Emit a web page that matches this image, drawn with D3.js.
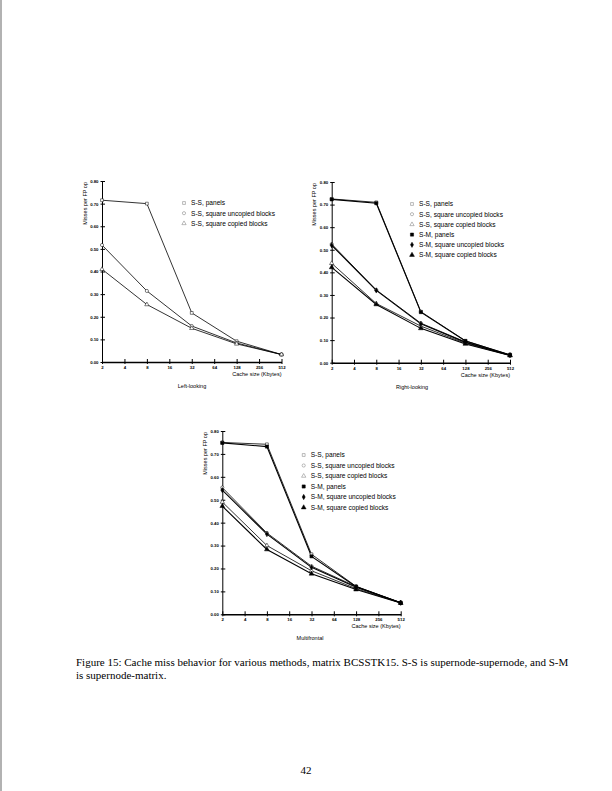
<!DOCTYPE html>
<html>
<head>
<meta charset="utf-8">
<title>Figure 15</title>
<style>
  body { margin: 0; background: #fff; }
  svg { display: block; }
  .tick text { font-family: "Liberation Sans", Arial, sans-serif; font-weight: bold; }
</style>
<script src="https://cdn.jsdelivr.net/npm/d3@7"></script>
</head>
<body>
<svg id="page" width="612" height="791"></svg>
<script>
// data
var cacheSizes = [2, 8, 32, 128, 512];
var xTicks = [2, 4, 8, 16, 32, 64, 128, 256, 512];
var yTicks = [0, 0.1, 0.2, 0.3, 0.4, 0.5, 0.6, 0.7, 0.8];

var seriesNames = ["S-S, panels", "S-S, square uncopied blocks", "S-S, square copied blocks",
                   "S-M, panels", "S-M, square uncopied blocks", "S-M, square copied blocks"];

var leftSSPanels   = [0.715, 0.700, 0.217, 0.092, 0.033];
var leftSSUncopied = [0.517, 0.314, 0.159, 0.084, 0.033];
var leftSSCopied   = [0.410, 0.254, 0.149, 0.080, 0.033];

var rightSSPanels   = [0.725, 0.710, 0.226, 0.097, 0.034];
var rightSSUncopied = [0.525, 0.322, 0.175, 0.092, 0.033];
var rightSSCopied   = [0.440, 0.262, 0.162, 0.086, 0.032];
var rightSMPanels   = [0.723, 0.706, 0.224, 0.096, 0.035];
var rightSMUncopied = [0.520, 0.320, 0.172, 0.090, 0.033];
var rightSMCopied   = [0.422, 0.258, 0.152, 0.083, 0.032];

var multiSSPanels   = [0.750, 0.742, 0.262, 0.122, 0.051];
var multiSSUncopied = [0.553, 0.355, 0.210, 0.121, 0.050];
var multiSSCopied   = [0.490, 0.300, 0.190, 0.112, 0.050];
var multiSMPanels   = [0.748, 0.732, 0.253, 0.120, 0.050];
var multiSMUncopied = [0.542, 0.350, 0.205, 0.118, 0.050];
var multiSMCopied   = [0.472, 0.283, 0.177, 0.108, 0.049];

// marker per series index
var markers = [
  {type: d3.symbolSquare, fill: "none", size: 8},
  {type: d3.symbolCircle, fill: "none", size: 8},
  {type: d3.symbolTriangle, fill: "none", size: 8},
  {type: d3.symbolSquare, fill: "#000", size: 10},
  {type: d3.symbolDiamond, fill: "#000", size: 8},
  {type: d3.symbolTriangle, fill: "#000", size: 10}
];

var svg = d3.select("#page");

// scan edge on the left
svg.append("line").attr("x1", 1).attr("x2", 1).attr("y1", 0).attr("y2", 791)
  .attr("stroke", "#999").attr("stroke-width", 1.5);

function drawPanel(p) {
  var x = d3.scaleLog().base(2).domain([2, 512]).range([p.x0, p.x1]);
  var y = d3.scaleLinear().domain([0, 0.8]).range([p.y0, p.y1]);
  var g = svg.append("g");

  var yAxis = g.append("g").attr("transform", "translate(" + p.x0 + ",0)")
    .call(d3.axisLeft(y).tickValues(yTicks).tickFormat(d3.format(".2f")).tickSize(0).tickPadding(3.5));
  yAxis.selectAll("text").attr("font-size", 4.3);
  yAxis.select(".domain").attr("stroke-width", 1);
  yAxis.selectAll(".tick").append("line").attr("x1", -1.5).attr("x2", 3).attr("stroke", "#000");

  var xAxis = g.append("g").attr("transform", "translate(0," + p.y0 + ")")
    .call(d3.axisBottom(x).tickValues(xTicks).tickFormat(d3.format("d")).tickSize(0).tickPadding(4));
  xAxis.selectAll("text").attr("font-size", 4.3);
  xAxis.select(".domain").attr("stroke-width", 1.6);
  xAxis.selectAll(".tick").append("line").attr("y1", 2).attr("y2", -3).attr("stroke", "#000");

  g.append("text")
    .attr("transform", "translate(" + (p.x0 - 15.5) + "," + (p.y1 + 1) + ") rotate(-90)")
    .attr("text-anchor", "end")
    .attr("font-family", "Liberation Sans, Arial, sans-serif").attr("font-size", 5.5)
    .text("Misses per FP op");

  g.append("text").attr("x", p.x1).attr("y", p.y0 + 14)
    .attr("text-anchor", "end")
    .attr("font-family", "Liberation Sans, Arial, sans-serif").attr("font-size", 5.5)
    .text("Cache size (Kbytes)");

  g.append("text").attr("x", p.titleX).attr("y", p.y0 + 26)
    .attr("text-anchor", "middle")
    .attr("font-family", "Liberation Sans, Arial, sans-serif").attr("font-size", 5.5)
    .text(p.title);

  var line = d3.line().x(function (d, i) { return x(cacheSizes[i]); }).y(function (d) { return y(d); });

  p.series.forEach(function (s) {
    g.append("path").attr("d", line(s.values))
      .attr("fill", "none").attr("stroke", "#000").attr("stroke-width", s.idx >= 3 ? 1.1 : 0.8);
  });
  p.series.forEach(function (s) {
    var m = markers[s.idx];
    g.selectAll(null).data(s.values).enter().append("path")
      .attr("d", d3.symbol().type(m.type).size(m.size))
      .attr("transform", function (d, i) { return "translate(" + x(cacheSizes[i]) + "," + y(d) + ")"; })
      .attr("fill", m.fill === "none" ? "#fff" : m.fill)
      .attr("stroke", "#000").attr("stroke-width", 0.5);
  });

  // legend
  p.series.forEach(function (s, k) {
    var m = markers[s.idx];
    var ly = p.legY + k * p.legStep;
    g.append("path").attr("d", d3.symbol().type(m.type).size(m.size))
      .attr("transform", "translate(" + p.legX + "," + ly + ")")
      .attr("fill", m.fill === "none" ? "#fff" : m.fill)
      .attr("stroke", m.fill === "none" ? "#777" : "#000").attr("stroke-width", 0.5);
    g.append("text").attr("x", p.legX + 7).attr("y", ly + 2.3)
      .attr("font-family", "Liberation Sans, Arial, sans-serif").attr("font-size", 6.6)
      .text(seriesNames[s.idx]);
  });
}

drawPanel({
  x0: 102, x1: 281.5, y0: 362, y1: 181, title: "Left-looking", titleX: 192,
  legX: 184, legY: 203, legStep: 10.2,
  series: [{idx: 0, values: leftSSPanels}, {idx: 1, values: leftSSUncopied}, {idx: 2, values: leftSSCopied}]
});

drawPanel({
  x0: 331.7, x1: 510, y0: 362.7, y1: 182, title: "Right-looking", titleX: 412,
  legX: 412, legY: 204, legStep: 10.2,
  series: [{idx: 0, values: rightSSPanels}, {idx: 1, values: rightSSUncopied}, {idx: 2, values: rightSSCopied},
           {idx: 3, values: rightSMPanels}, {idx: 4, values: rightSMUncopied}, {idx: 5, values: rightSMCopied}]
});

drawPanel({
  x0: 222.3, x1: 400.7, y0: 614.3, y1: 431, title: "Multifrontal", titleX: 310,
  legX: 303.7, legY: 455, legStep: 10.5,
  series: [{idx: 0, values: multiSSPanels}, {idx: 1, values: multiSSUncopied}, {idx: 2, values: multiSSCopied},
           {idx: 3, values: multiSMPanels}, {idx: 4, values: multiSMUncopied}, {idx: 5, values: multiSMCopied}]
});

// caption
var cap = svg.append("text").attr("font-family", "Liberation Serif, Times New Roman, serif").attr("font-size", 11);
cap.append("tspan").attr("x", 76).attr("y", 666)
  .text("Figure 15: Cache miss behavior for various methods, matrix BCSSTK15. S-S is supernode-supernode, and S-M");
cap.append("tspan").attr("x", 76).attr("y", 679).text("is supernode-matrix.");

svg.append("text").attr("x", 306).attr("y", 774).attr("text-anchor", "middle")
  .attr("font-family", "Liberation Serif, Times New Roman, serif").attr("font-size", 11).text("42");
</script>
</body>
</html>
